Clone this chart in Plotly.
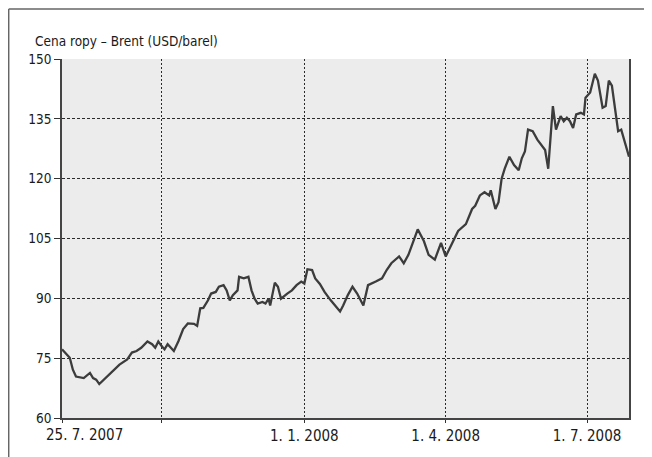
import plotly.graph_objects as go

dates = [
    "2007-07-29", "2007-08-01", "2007-08-03", "2007-08-05", "2007-08-07", "2007-08-12",
    "2007-08-16", "2007-08-18", "2007-08-20", "2007-08-22", "2007-08-27", "2007-08-31",
    "2007-09-04", "2007-09-09", "2007-09-12", "2007-09-15", "2007-09-18", "2007-09-22",
    "2007-09-25", "2007-09-27", "2007-09-29", "2007-10-01", "2007-10-03", "2007-10-05",
    "2007-10-09", "2007-10-12", "2007-10-15", "2007-10-18", "2007-10-22", "2007-10-24",
    "2007-10-26", "2007-10-28", "2007-10-31", "2007-11-02", "2007-11-05", "2007-11-07",
    "2007-11-10", "2007-11-12", "2007-11-14", "2007-11-16", "2007-11-19", "2007-11-20",
    "2007-11-23", "2007-11-26", "2007-11-28", "2007-11-30", "2007-12-02", "2007-12-05",
    "2007-12-07", "2007-12-09", "2007-12-10", "2007-12-12", "2007-12-13", "2007-12-15",
    "2007-12-17", "2007-12-21", "2007-12-24", "2007-12-27", "2007-12-30", "2008-01-01",
    "2008-01-03", "2008-01-06", "2008-01-08", "2008-01-11", "2008-01-14", "2008-01-18",
    "2008-01-21", "2008-01-24", "2008-01-26", "2008-01-29", "2008-02-01", "2008-02-04",
    "2008-02-08", "2008-02-11", "2008-02-16", "2008-02-20", "2008-02-23", "2008-02-26",
    "2008-03-02", "2008-03-05", "2008-03-08", "2008-03-11", "2008-03-14", "2008-03-18",
    "2008-03-21", "2008-03-25", "2008-03-29", "2008-04-01", "2008-04-05", "2008-04-09",
    "2008-04-14", "2008-04-18", "2008-04-20", "2008-04-23", "2008-04-26", "2008-04-29",
    "2008-04-30", "2008-05-03", "2008-05-05", "2008-05-07", "2008-05-09", "2008-05-12",
    "2008-05-15", "2008-05-18", "2008-05-20", "2008-05-22", "2008-05-24", "2008-05-27",
    "2008-05-30", "2008-06-02", "2008-06-04", "2008-06-06", "2008-06-08", "2008-06-09",
    "2008-06-11", "2008-06-14", "2008-06-16", "2008-06-18", "2008-06-20", "2008-06-22",
    "2008-06-24", "2008-06-27", "2008-06-29", "2008-06-30", "2008-07-03", "2008-07-06",
    "2008-07-08", "2008-07-11", "2008-07-13", "2008-07-15", "2008-07-17", "2008-07-19",
    "2008-07-21", "2008-07-23", "2008-07-27", "2008-07-28",
]

brent = [
    77.2, 76.0, 75.1, 72.1, 70.4, 70.0,
    71.3, 70.0, 69.6, 68.5, 70.4, 71.7,
    73.4, 74.7, 76.4, 76.8, 77.6, 79.2,
    78.5, 77.6, 79.2, 78.1, 77.2, 78.5,
    76.8, 79.3, 82.3, 83.7, 83.6, 83.1,
    87.5, 87.6, 89.5, 91.2, 91.6, 92.9,
    93.3, 92.0, 89.5, 90.8, 92.0, 95.4,
    95.0, 95.4, 92.0, 89.9, 88.7, 89.1,
    88.7, 89.9, 88.2, 92.0, 93.9, 92.9,
    89.9, 91.2, 92.0, 93.3, 94.2, 93.7,
    97.3, 97.1, 95.0, 93.6, 91.6, 89.5,
    88.2, 86.7, 88.2, 90.8, 92.9, 91.2,
    88.2, 93.3, 94.2, 95.0, 97.1, 98.8,
    100.5, 98.8, 100.9, 104.3, 107.3, 104.3,
    100.9, 99.7, 103.9, 100.5, 103.5, 106.9,
    108.6, 112.4, 113.2, 115.8, 116.6, 115.8,
    117.1, 112.4, 114.1, 120.0, 122.5, 125.5,
    123.4, 122.1, 125.1, 126.8, 132.3, 131.9,
    129.8, 128.1, 127.2, 122.5, 132.7, 138.2,
    132.3, 135.7, 134.4, 135.3, 134.4, 132.7,
    136.1, 136.5, 136.1, 140.3, 141.6, 146.3,
    144.6, 137.8, 138.2, 144.6, 143.3, 137.8,
    131.9, 132.3, 126.8, 125.5,
]

x_tickvals = ["2007-07-29", "2007-10-01", "2008-01-01", "2008-04-01", "2008-07-01"]
x_ticktext = ["", "", "1. 1. 2008", "1. 4. 2008", "1. 7. 2008"]
start_label = "25. 7. 2007"
y_tickvals = [60, 75, 90, 105, 120, 135, 150]
title_text = "Cena ropy – Brent (USD/barel)"

FONT = "DejaVu Sans Condensed, Liberation Sans Narrow, Arial Narrow, sans-serif"
TXT = "#1a1a1a"

fig = go.Figure()
fig.add_trace(go.Scatter(
    x=dates, y=brent, mode="lines",
    line=dict(color="#3c3c3c", width=2.3),
    hoverinfo="x+y", showlegend=False,
))

# the page body has an 8px margin, so the figure is shrunk by 8px
fig.update_layout(
    width=644, height=449,
    margin=dict(l=54, r=23, t=51, b=36),
    paper_bgcolor="white",
    plot_bgcolor="#ececec",
    font=dict(family=FONT, size=14, color=TXT),
    xaxis=dict(
        type="date",
        range=["2007-07-29", "2008-07-28"],
        tickmode="array", tickvals=x_tickvals, ticktext=x_ticktext,
        tickfont=dict(family=FONT, size=15, color=TXT),
        ticks="outside", ticklen=3, tickwidth=1, tickcolor="#333",
        showgrid=True, gridcolor="#2a2a2a", gridwidth=1, griddash="2px,2px",
        showline=True, linecolor="#444", linewidth=1.5,
        zeroline=False,
    ),
    yaxis=dict(
        range=[60, 150],
        tickmode="array", tickvals=y_tickvals,
        tickfont=dict(family=FONT, size=13.5, color=TXT),
        ticks="outside", ticklen=6, tickwidth=1, tickcolor="#333",
        showgrid=True, gridcolor="#2a2a2a", gridwidth=1, griddash="3px,2px",
        showline=True, linecolor="#444", linewidth=1.5, mirror=True,
        zeroline=False,
    ),
    annotations=[
        dict(text=title_text, xref="paper", yref="paper", x=-0.0503, y=1.0506,
             xanchor="left", yanchor="middle", showarrow=False,
             font=dict(family=FONT, size=13.5, color=TXT)),
        dict(text=start_label, xref="paper", yref="paper", x=-0.031, y=-0.046,
             xanchor="left", yanchor="middle", showarrow=False,
             font=dict(family=FONT, size=15, color=TXT)),
    ],
    shapes=[
        dict(type="line", xref="paper", yref="paper", x0=-0.094, x1=1.05,
             y0=1.1390, y1=1.1390, line=dict(color="#666", width=1.5)),
        dict(type="line", xref="paper", yref="paper", x0=-0.094, x1=-0.094,
             y0=1.1390, y1=-0.13, line=dict(color="#666", width=1.5)),
    ],
)

fig.write_html("out.html")
